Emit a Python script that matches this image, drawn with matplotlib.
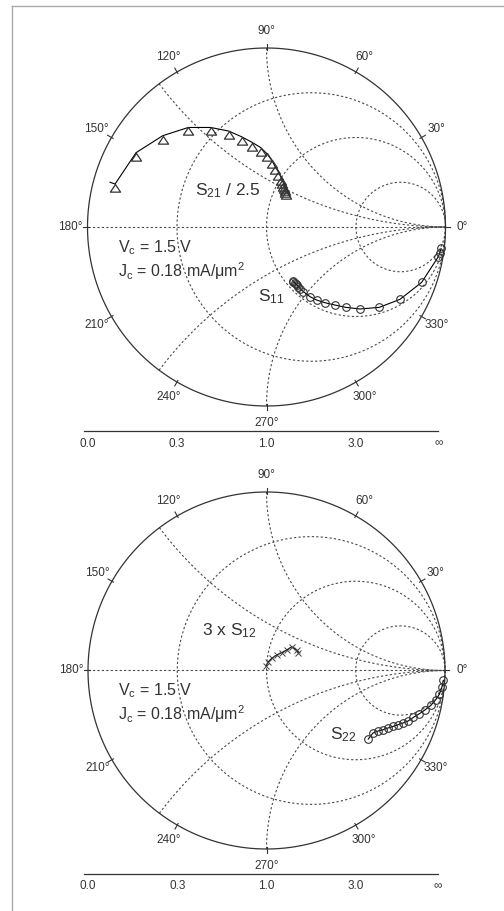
import numpy as np
import matplotlib
matplotlib.use('Agg')
import matplotlib.pyplot as plt
from matplotlib.path import Path

plt.rcParams['font.family'] = ['Liberation Sans', 'DejaVu Sans']
plt.rcParams['mathtext.default'] = 'regular'

# S21 / 2.5, top chart (triangles), real / imaginary part of reflection plane
s21_re = [-0.874, -0.846, -0.729, -0.580, -0.437, -0.312, -0.211, -0.139, -0.079, -0.033,
          0.001, 0.029, 0.047, 0.066, 0.081, 0.088, 0.094, 0.099, 0.103, 0.106, 0.109]
s21_im = [0.250, 0.240, 0.415, 0.510, 0.556, 0.556, 0.536, 0.504, 0.472, 0.444,
          0.411, 0.374, 0.340, 0.309, 0.277, 0.262, 0.247, 0.234, 0.221, 0.211, 0.202]

# S11, top chart (circles)
s11_re = [0.975, 0.968, 0.960, 0.867, 0.746, 0.630, 0.522, 0.444, 0.383, 0.327,
          0.280, 0.243, 0.206, 0.187, 0.178, 0.170, 0.163, 0.157, 0.150, 0.146]
s11_im = [-0.120, -0.145, -0.166, -0.309, -0.404, -0.449, -0.458, -0.449, -0.436, -0.423,
          -0.408, -0.389, -0.361, -0.344, -0.334, -0.324, -0.318, -0.311, -0.306, -0.300]

# 3 x S12, bottom chart (crosses)
s12_re = [-0.003, 0.010, 0.029, 0.057, 0.085, 0.113, 0.141, 0.169, 0.178]
s12_im = [0.025, 0.049, 0.068, 0.087, 0.100, 0.115, 0.133, 0.115, 0.100]

# S22, bottom chart (circles)
s22_re = [0.990, 0.983, 0.969, 0.947, 0.920, 0.888, 0.854, 0.822, 0.793, 0.765,
          0.737, 0.709, 0.681, 0.653, 0.625, 0.597, 0.570]
s22_im = [-0.056, -0.092, -0.132, -0.165, -0.196, -0.221, -0.244, -0.263, -0.283, -0.294,
          -0.304, -0.313, -0.322, -0.332, -0.339, -0.350, -0.384]

angle_ticks = [0, 30, 60, 90, 120, 150, 180, 210, 240, 270, 300, 330]
r_circles = [1 / 3, 1, 3]
x_arcs = [0.5, 1, -0.5, -1]
scale_r = [0, 1 / 3, 1, 3, np.inf]
scale_labels = ['0.0', '0.3', '1.0', '3.0', '∞']

W, H = 504, 911
fig = plt.figure(figsize=(W / 100, H / 100), dpi=100)

ink = '#333333'
grid_kw = dict(color='#4a4a4a', lw=0.8, ls=(0, (2, 2)))

# triangle hanging below its point (the fitted line runs through the apexes)
tri = Path([(-1, -1.5), (1, -1.5), (0, 0), (-1, -1.5)],
           [Path.MOVETO, Path.LINETO, Path.LINETO, Path.CLOSEPOLY])


def smith_axes(cx, cy, R):
    """Axes in reflection-coefficient units, unit circle centred at pixel (cx, cy)."""
    x0, x1 = -1.45, 1.35
    y0, y1 = -1.27, 1.25
    left = (cx + x0 * R) / W
    bottom = (H - (cy - y0 * R)) / H
    ax = fig.add_axes([left, bottom, (x1 - x0) * R / W, (y1 - y0) * R / H])
    ax.set_xlim(x0, x1)
    ax.set_ylim(y0, y1)
    ax.axis('off')
    return ax


def draw_grid(ax):
    big = np.tan(np.linspace(-np.pi / 2 + 1e-3, np.pi / 2 - 1e-3, 1500))
    for r in r_circles:
        g = (r + 1j * big - 1) / (r + 1j * big + 1)
        ax.plot(g.real, g.imag, **grid_kw)
    rr = np.tan(np.linspace(0, np.pi / 2 - 1e-3, 1500))
    for x in x_arcs:
        g = (rr + 1j * x - 1) / (rr + 1j * x + 1)
        ax.plot(g.real, g.imag, **grid_kw)
    ax.plot([-1, 1], [0, 0], **grid_kw)

    th = np.linspace(0, 2 * np.pi, 600)
    ax.plot(np.cos(th), np.sin(th), color=ink, lw=0.9)
    for a in angle_ticks:
        c, s = np.cos(np.radians(a)), np.sin(np.radians(a))
        ax.plot([0.99 * c, 1.025 * c], [0.99 * s, 1.025 * s], color=ink, lw=0.8)
        ax.text(1.095 * c, 1.095 * s, f'{a}°', ha='center', va='center',
                fontsize=8.5, color=ink)

    # resistance scale under the chart
    ax.plot([-1.02, 0.96], [-1.14, -1.14], color=ink, lw=0.9, clip_on=False)
    for r, lab in zip(scale_r, scale_labels):
        gx = 1.0 if np.isinf(r) else (r - 1) / (r + 1)
        ax.text(min(gx, 0.96), -1.21, lab, ha='center', va='center',
                fontsize=8.5, color=ink)


def bias_text(ax):
    ax.text(-0.83, -0.115, 'V$_c$ = 1.5 V', fontsize=11.5, color=ink, va='center')
    ax.text(-0.83, -0.245, 'J$_c$ = 0.18 mA/μm$^2$', fontsize=11.5, color=ink, va='center')


# top chart: S11 and S21
ax1 = smith_axes(266.5, 227, 179)
draw_grid(ax1)
ax1.plot(s21_re, s21_im, color='black', lw=0.8)
ax1.plot(s21_re[1:], s21_im[1:], ls='none', marker=tri, ms=11, mfc='none', mec=ink, mew=0.9)
ax1.plot(s11_re, s11_im, color='black', lw=0.8, marker='o', ms=5.5, mfc='none', mec=ink, mew=0.8)
ax1.text(-0.40, 0.205, 'S$_{21}$ / 2.5', fontsize=12.5, color=ink, va='center')
ax1.text(-0.05, -0.39, 'S$_{11}$', fontsize=12.5, color=ink, va='center')
bias_text(ax1)

# bottom chart: S12 and S22
ax2 = smith_axes(266.5, 670.5, 178.5)
draw_grid(ax2)
ax2.plot(s12_re, s12_im, color='black', lw=0.8, marker='x', ms=4, mec='#444444', mew=0.7)
ax2.plot(s22_re, s22_im, color='black', lw=0.8, marker='o', ms=5.5, mfc='none', mec=ink, mew=0.8)
ax2.text(-0.36, 0.225, '3 x S$_{12}$', fontsize=12.5, color=ink, va='center')
ax2.text(0.355, -0.36, 'S$_{22}$', fontsize=12.5, color=ink, va='center')
bias_text(ax2)

# light frame on top and left edge
fig.add_artist(plt.Line2D([12 / W, 12 / W], [0, 1 - 6 / H], transform=fig.transFigure,
                          color='#aaaaaa', lw=1))
fig.add_artist(plt.Line2D([12 / W, 1], [1 - 6 / H, 1 - 6 / H], transform=fig.transFigure,
                          color='#aaaaaa', lw=1))

fig.savefig('out.png', dpi=100)
